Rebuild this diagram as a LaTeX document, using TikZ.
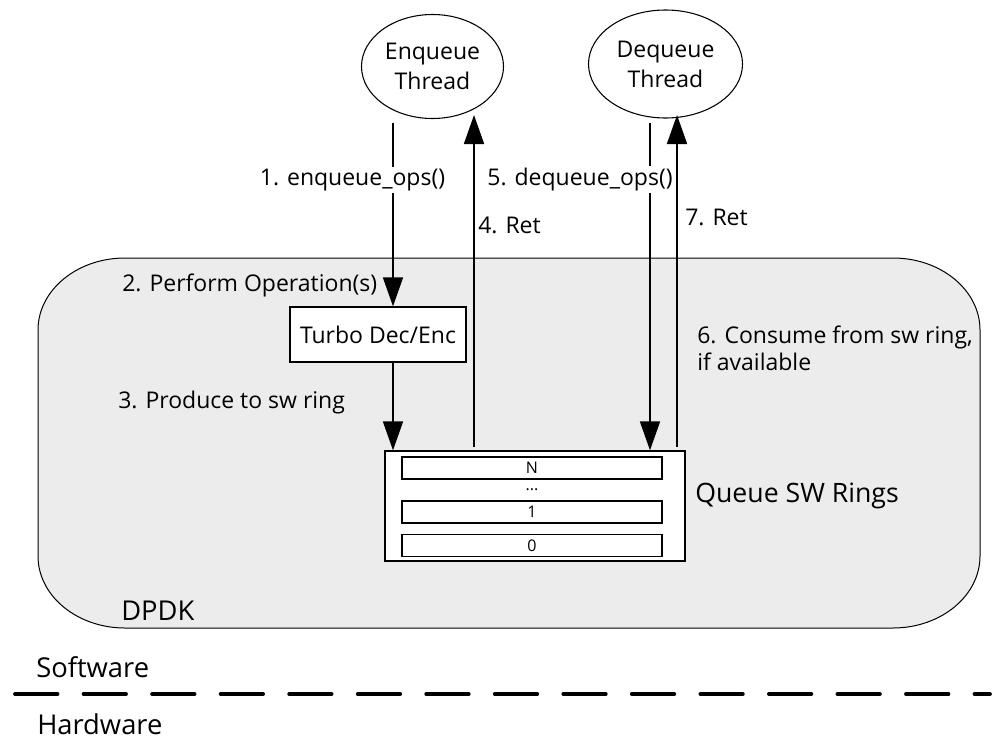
\documentclass[tikz,border=0pt]{standalone}
\usepackage{fontspec}
\setmainfont{Open Sans}
\usetikzlibrary{arrows.meta,shapes.geometric}
\definecolor{dpdkfill}{RGB}{236,236,236}
\tikzset{
  lbl/.style={font=\fontsize{17.25}{22.5}\selectfont, inner sep=0pt},
  big/.style={font=\fontsize{20.5}{24}\selectfont, inner sep=0pt},
  small/.style={font=\fontsize{12}{14}\selectfont, inner sep=0pt},
  thread/.style={ellipse, draw, line width=0.8pt, inner sep=0pt, align=center,
    font=\fontsize{17.25}{22.5}\selectfont},
  box/.style={rectangle, draw, line width=1pt, fill=white, inner sep=0pt},
  slotbox/.style={rectangle, draw, line width=1pt, fill=white, inner sep=0pt,
    minimum width=195pt, minimum height=16.5pt, font=\fontsize{12}{14}\selectfont},
  arr/.style={line width=1.3pt, -{Triangle[length=21.75pt,width=15pt]}},
  cut/.style={fill=white, inner sep=1.5pt}
}
\begin{document}
\begin{tikzpicture}[x=0.75pt,y=0.75pt]
\useasboundingbox (0,0) rectangle (998,-739);

% DPDK area
\draw[line width=0.75pt, fill=dpdkfill]
  (38,-330) arc[start angle=180,end angle=90,x radius=87,y radius=72]
  -- (893,-258) arc[start angle=90,end angle=0,x radius=87,y radius=72]
  -- (980,-556) arc[start angle=0,end angle=-90,x radius=87,y radius=72]
  -- (125,-628) arc[start angle=270,end angle=180,x radius=87,y radius=72]
  -- cycle;
\node[big, anchor=base west] (dpdk) at (121,-620) {DPDK};

% threads
\node[thread, minimum width=106.5pt, minimum height=78pt] (enq) at (432.5,-66.5) {Enqueue\\Thread};
\node[thread, minimum width=115.5pt, minimum height=81pt] (deq) at (665.5,-64) {Dequeue\\Thread};

% processing block and rings
\node[box, minimum width=132pt, minimum height=41.25pt, font=\fontsize{17.25}{22.5}\selectfont] (turbo) at (378,-334.5) {Turbo Dec/Enc};
\node[box, minimum width=225pt, minimum height=82.5pt] (ring) at (535,-506) {};
\node[slotbox] (slotN) at (532,-468) {N};
\node[small] (dots) at (532,-490) {...};
\node[slotbox] (slot1) at (532,-512) {1};
\node[slotbox] (slot0) at (532,-545.5) {0};
\node[anchor=base west, inner sep=0pt, font=\fontsize{20}{24}\selectfont] (ringlbl) at (695,-502) {Queue SW Rings};

% connector end points
\coordinate (e1) at (393,-123);
\coordinate (d1) at (650,-123);
\coordinate (r4) at (474,-447);
\coordinate (t4) at (474,-115);
\coordinate (r7) at (677,-447);
\coordinate (t7) at (677,-115);

% connectors
\draw[arr] (e1) -- (e1 |- turbo.north);
\draw[arr] (e1 |- turbo.south) -- (e1 |- ring.north);
\draw[arr] (r4) -- (t4);
\draw[arr] (d1) -- (d1 |- ring.north);
\draw[arr] (r7) -- (t7);

% step labels
\node[lbl, cut, anchor=base] (l1) at (352.5,-185) {1. enqueue\_ops()};
\node[lbl, cut, anchor=base] (l5) at (580,-185) {5. dequeue\_ops()};
\node[lbl, anchor=base west] (l4) at (478,-233) {4. Ret};
\node[lbl, anchor=base west] (l7) at (685,-225) {7. Ret};
\node[lbl, anchor=base west] (l2) at (122,-291) {2. Perform Operation(s)};
\node[lbl, anchor=base west] (l3) at (118,-408) {3. Produce to sw ring};
\node[lbl, anchor=base west, align=left, font=\fontsize{17.25}{20.25}\selectfont] (l6) at (697,-370) {6. Consume from sw ring,\\if available};

% software / hardware boundary
\node[big, anchor=base west] (sw) at (36,-677) {Software};
\node[big, anchor=base west] (hw) at (37,-734) {Hardware};
\coordinate (bl) at (15,-694);
\coordinate (br) at (990,-694);
\draw[line width=2.8pt, line cap=round, dash pattern=on 31.9pt off 19.5pt] (bl) -- (br);
\end{tikzpicture}
\end{document}
